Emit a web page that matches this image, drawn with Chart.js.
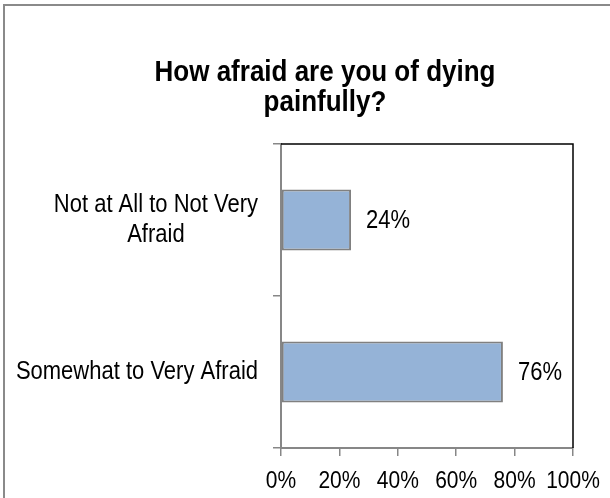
<!DOCTYPE html>
<html>
<head>
<meta charset="utf-8">
<script src="https://cdn.jsdelivr.net/npm/chart.js@4/dist/chart.umd.min.js"></script>
<style>
  html, body { margin: 0; padding: 0; background: #fff; }
  #wrap { position: relative; width: 610px; height: 498px; }
</style>
</head>
<body>
<div id="wrap"><canvas id="chart" width="610" height="498"></canvas></div>
<script>
// Survey question and answers
const titleLines = ['How afraid are you of dying', 'painfully?'];
const categories = [['Not at All to Not Very', 'Afraid'], ['Somewhat to Very Afraid']];
const shares = [24, 76];
const tickValues = [0, 20, 40, 60, 80, 100];
const tickLabels = ['0%', '20%', '40%', '60%', '80%', '100%'];

const FAMILY = '"Liberation Sans", Arial, sans-serif';
const AXIS_GREY = '#878787';
const TEXT_STRETCH = 1.15;   // text is drawn slightly tall

function tallText(ctx, text, x, y) {
  ctx.save();
  ctx.translate(x, y);
  ctx.scale(1, TEXT_STRETCH);
  ctx.fillText(text, 0, 0);
  ctx.restore();
}

// Frame, title, plot border, axis labels and value labels
const decorations = {
  id: 'decorations',
  beforeDraw(chart) {
    const ctx = chart.ctx;
    ctx.save();
    ctx.strokeStyle = '#8a8a8a';
    ctx.lineWidth = 2;
    ctx.beginPath();
    ctx.moveTo(4, 520);
    ctx.lineTo(4, 5);
    ctx.lineTo(640, 5);
    ctx.stroke();

    ctx.fillStyle = '#000';
    ctx.font = 'bold 26px ' + FAMILY;
    ctx.textAlign = 'center';
    ctx.textBaseline = 'alphabetic';
    tallText(ctx, titleLines[0], 325, 81);
    tallText(ctx, titleLines[1], 325, 111);
    ctx.restore();
  },
  beforeDatasetsDraw(chart) {
    const { ctx, chartArea: a } = chart;
    ctx.save();
    ctx.strokeStyle = '#000';
    ctx.lineWidth = 1.5;
    ctx.beginPath();
    ctx.moveTo(a.left, a.top);
    ctx.lineTo(a.right, a.top);
    ctx.lineTo(a.right, a.bottom);
    ctx.stroke();
    ctx.restore();
  },
  afterDraw(chart) {
    const ctx = chart.ctx;
    const yScale = chart.scales.y;
    const xScale = chart.scales.x;
    ctx.save();
    ctx.fillStyle = '#000';
    ctx.font = '22px ' + FAMILY;
    ctx.textBaseline = 'middle';
    ctx.textAlign = 'center';

    // category labels: block right-aligned to the axis, lines centred in the block
    const blockRight = yScale.right - 23;
    const lineGap = 30;
    chart.data.labels.forEach((lab, i) => {
      const lines = Array.isArray(lab) ? lab : [lab];
      const w = Math.max(...lines.map(l => ctx.measureText(l).width));
      const cx = blockRight - w / 2;
      const cy = yScale.getPixelForValue(i);
      lines.forEach((l, j) => {
        tallText(ctx, l, cx, cy + (j - (lines.length - 1) / 2) * lineGap);
      });
    });

    // percentage axis labels
    ctx.font = '21px ' + FAMILY;
    tickValues.forEach((v, i) => {
      tallText(ctx, tickLabels[i], xScale.getPixelForValue(v), xScale.top + 33);
    });

    // value labels beside each bar
    ctx.font = '22px ' + FAMILY;
    ctx.textAlign = 'left';
    const meta = chart.getDatasetMeta(0);
    meta.data.forEach((bar, i) => {
      tallText(ctx, shares[i] + '%', bar.x + 15, bar.y + 1);
    });
    ctx.restore();
  }
};

new Chart(document.getElementById('chart'), {
  type: 'bar',
  data: {
    labels: categories,
    datasets: [{
      data: shares,
      backgroundColor: '#95B3D7',
      borderColor: '#808080',
      borderWidth: 2,
      borderSkipped: false,
      barPercentage: 0.4,
      categoryPercentage: 1
    }]
  },
  options: {
    indexAxis: 'y',
    responsive: false,
    animation: false,
    layout: { padding: { left: 4, right: 37, top: 144, bottom: 0 } },
    plugins: {
      legend: { display: false },
      tooltip: { enabled: false },
      title: { display: false }
    },
    scales: {
      x: {
        min: 0,
        max: 100,
        ticks: { stepSize: 20, display: false },
        grid: { drawOnChartArea: false, drawTicks: true, tickLength: 8, color: AXIS_GREY, lineWidth: 1.5 },
        border: { color: AXIS_GREY, width: 2 },
        afterFit: s => { s.height = 50; }
      },
      y: {
        ticks: { display: false },
        grid: { offset: true, drawOnChartArea: false, drawTicks: true, tickLength: 8, color: AXIS_GREY, lineWidth: 1.5 },
        border: { color: AXIS_GREY, width: 2 },
        afterFit: s => { s.width = 277; }
      }
    }
  },
  plugins: [decorations]
});
</script>
</body>
</html>
